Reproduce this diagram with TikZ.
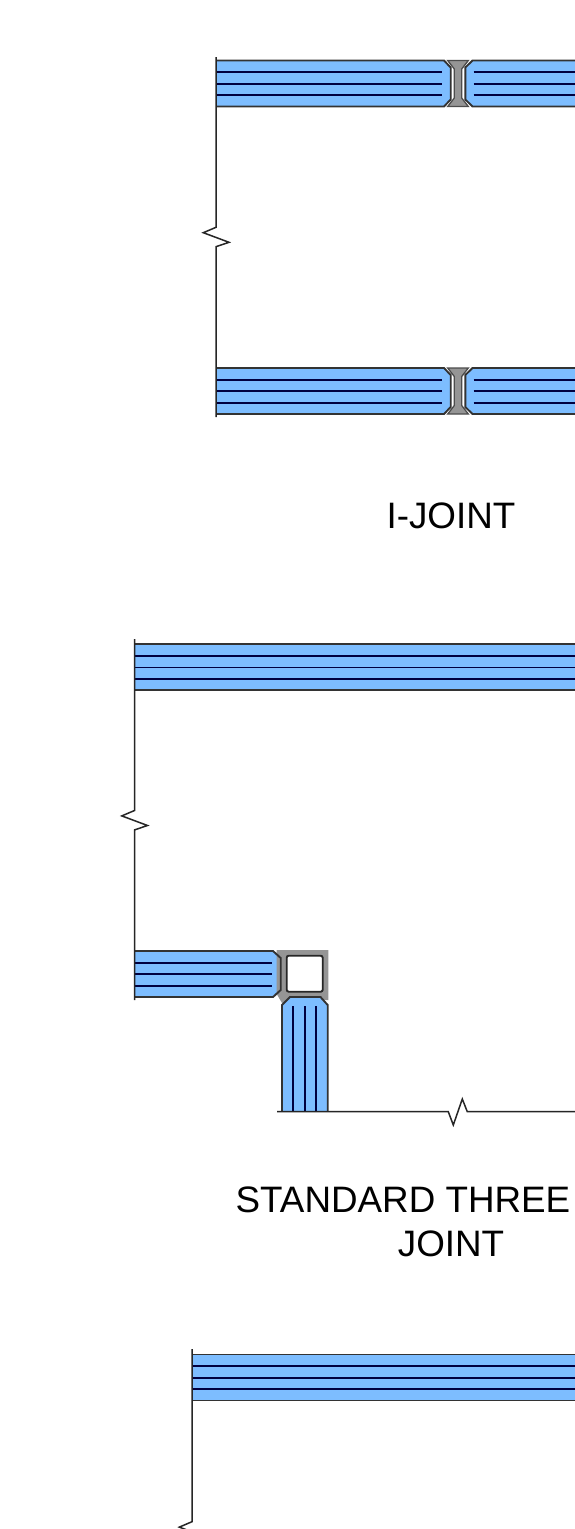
\documentclass[tikz,border=0pt]{standalone}
\usepackage{fontspec}
\setmainfont{Liberation Sans}
\definecolor{panelblue}{HTML}{7DBDFF}
\definecolor{jointgray}{HTML}{959595}
\tikzset{
  panel/.style={fill=panelblue,draw=black!80,line width=1.9pt},
  rib/.style={draw=black!75!blue,line width=1.9pt},
  wall/.style={draw=black!85,line width=1.5pt},
  joint/.style={fill=jointgray,draw=black!70,line width=1.3pt},
  title/.style={font=\fontsize{36.8}{44}\selectfont,text=black}
}
\def\h{46}
\def\s{11.6}
% full width panel, from x=#1 with top at y=#2
\newcommand{\flatpanel}[2]{
  \fill[panelblue] (#1,#2) rectangle (575,{#2+\h});
  \draw[panel,fill=none] (#1,#2) -- (575,#2);
  \draw[panel,fill=none] (#1,{#2+\h}) -- (575,{#2+\h});
  \foreach \k in {1,2,3}
    \draw[rib] (#1,{#2+\k*\s}) -- (575,{#2+\k*\s});
}
% two panels and the i-section between them
\newcommand{\ijoint}[1]{
  \draw[joint] (447.7,#1) -- (468.3,#1) -- (461.7,{#1+8.5}) -- (461.7,{#1+\h-8.5})
    -- (468.3,{#1+\h}) -- (447.7,{#1+\h}) -- (454.3,{#1+\h-8.5}) -- (454.3,{#1+8.5}) -- cycle;
  \draw[panel] (216,#1) -- (444,#1) -- (450.7,{#1+7}) -- (450.7,{#1+\h-7}) -- (444,{#1+\h}) -- (216,{#1+\h});
  \draw[panel] (575,#1) -- (472.5,#1) -- (465.3,{#1+7}) -- (465.3,{#1+\h-7}) -- (472.5,{#1+\h}) -- (575,{#1+\h});
  \foreach \k in {1,2,3} {
    \draw[rib] (216,{#1+\k*\s}) -- (442,{#1+\k*\s});
    \draw[rib] (473.5,{#1+\k*\s}) -- (575,{#1+\k*\s});
  }
}
\begin{document}
\begin{tikzpicture}[x=1pt,y=-1pt]
\useasboundingbox (0,0) rectangle (575,1529);
\clip (0,0) rectangle (575,1529);
\fill[white] (0,0) rectangle (575,1529);

% i-joint
\ijoint{60.5}
\ijoint{368}
\draw[wall] (216,57) -- (216,227.3) -- (203.3,232.7) -- (229,242.3) -- (216,246.7) -- (216,417);
\node[title] (ijointlabel) at (451,516) {I-JOINT};

% standard three joint
\flatpanel{134.5}{644.3}
\fill[panelblue] (134,951) -- (273,951) -- (280.7,958) -- (280.7,990) -- (273,997) -- (134,997) -- cycle;
\fill[jointgray] (276.7,950) -- (328.3,950) -- (328.3,1000) -- (282,1003) -- (276.7,994) -- cycle;
\draw[panel,fill=none] (134,951) -- (273,951) -- (280.7,958) -- (280.7,990) -- (273,997) -- (134,997);
\foreach \k in {1,2,3}
  \draw[rib] (134,{951+\k*\s}) -- (271.7,{951+\k*\s});
\draw[fill=white,draw=black!85,line width=1.9pt,rounded corners=2pt] (286.7,955.7) rectangle (322.7,991.7);
\draw[panel] (282,1111.5) -- (282,1005) -- (290,997) -- (320.5,997) -- (327.7,1005) -- (327.7,1111.5);
\foreach \k in {1,2,3}
  \draw[rib] ({282+\k*\s-0.5},1006) -- ({282+\k*\s-0.5},1111.5);
\draw[wall] (134.5,639) -- (134.5,810.5) -- (121.8,815.9) -- (147.5,825.5) -- (134.5,829.9) -- (134.5,1000);
\draw[wall] (277,1111.7) -- (448.3,1111.7) -- (453.3,1125) -- (462.3,1099) -- (467.3,1111.7) -- (575,1111.7);
\node[title] (threelabel) at (403,1200) {STANDARD THREE};
\node[title] (jointlabel) at (451,1244) {JOINT};

% lower panel
\flatpanel{192}{1354.5}
\draw[wall] (192,1349) -- (192,1521.7) -- (179.3,1527.1) -- (205,1536.7);
\end{tikzpicture}
\end{document}
